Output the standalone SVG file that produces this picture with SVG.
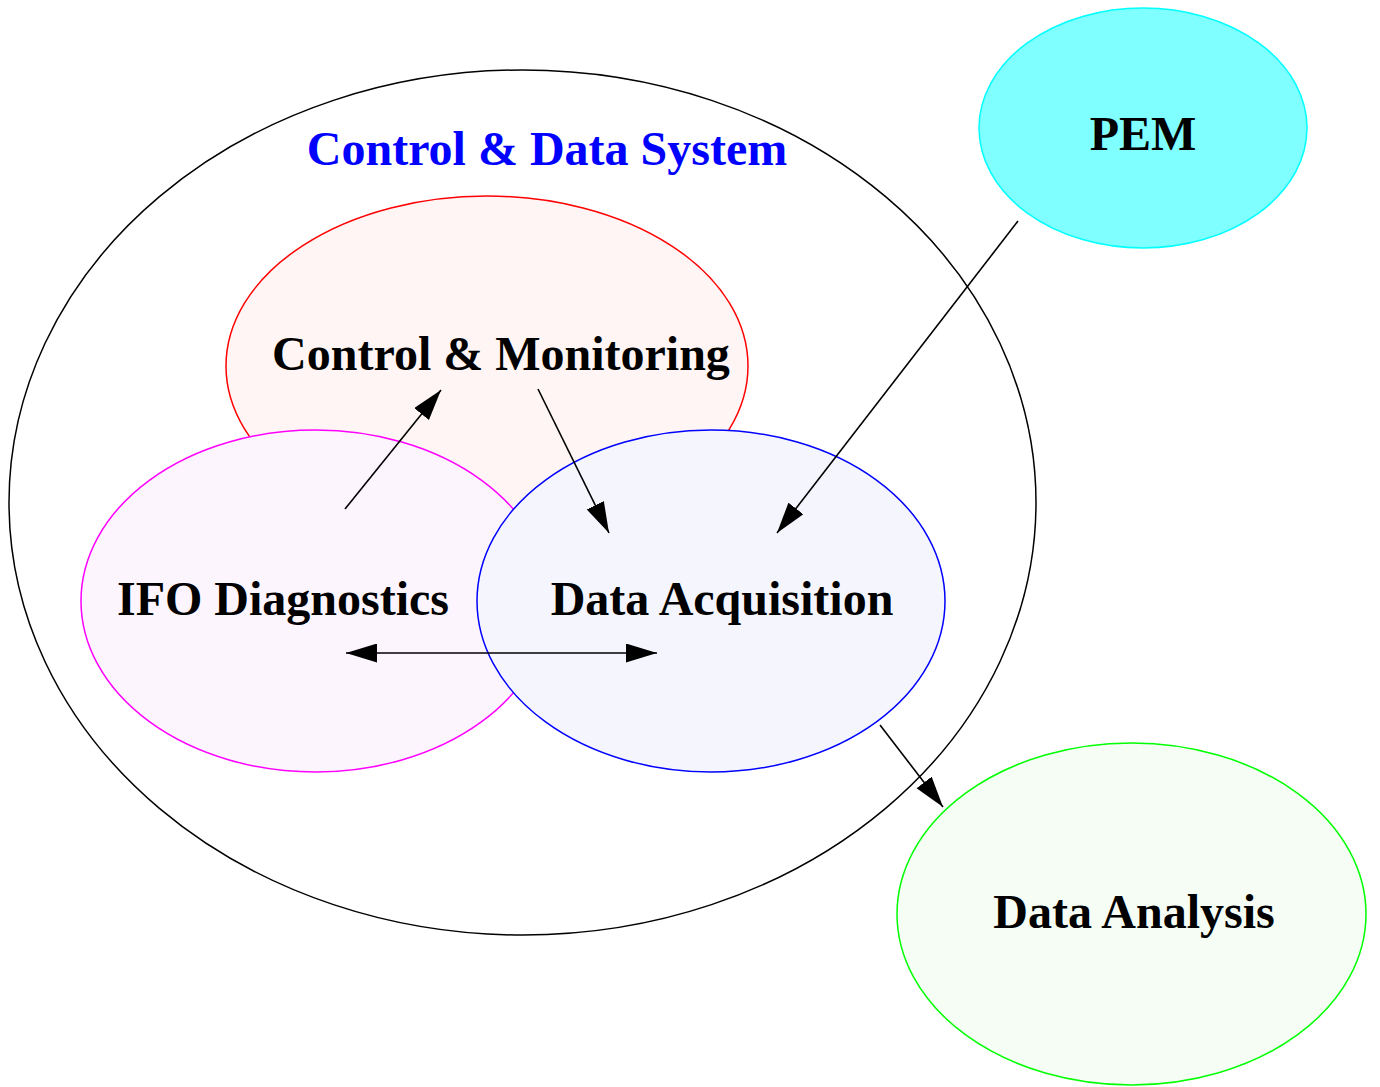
<svg xmlns="http://www.w3.org/2000/svg" width="1380" height="1087" viewBox="0 0 1380 1087">
<style>
.lbl{font-family:"Liberation Serif","Times New Roman",serif;font-weight:bold;font-size:48px;text-anchor:middle;fill:#000}
.node{stroke-width:1.5}
.conn{stroke:#000;stroke-width:1.6;fill:none}
</style>
<defs>
<marker id="ah" markerWidth="32" markerHeight="20" refX="31" refY="9.5" orient="auto" markerUnits="userSpaceOnUse">
<path d="M0,0 L31,9.5 L0,19 Z" fill="#000"/>
</marker>
<marker id="ahs" markerWidth="32" markerHeight="20" refX="0" refY="9.5" orient="auto" markerUnits="userSpaceOnUse">
<path d="M31,0 L0,9.5 L31,19 Z" fill="#000"/>
</marker>
</defs>
<rect width="1380" height="1087" fill="#fff"/>
<g id="cds">
<ellipse class="node" cx="522.5" cy="502.5" rx="513.5" ry="432.5" fill="#fff" stroke="#000"/>
<text class="lbl" x="547" y="165" fill="#0000ff" style="fill:#0000ff">Control &amp; Data System</text>
</g>
<g id="cm">
<ellipse class="node" cx="487" cy="366" rx="261" ry="170" fill="#fff5f5" stroke="#ff0000"/>
<text class="lbl" x="501" y="370">Control &amp; Monitoring</text>
</g>
<g id="ifo">
<ellipse class="node" cx="315.5" cy="601" rx="234.5" ry="171" fill="#fdf5fd" stroke="#ff00ff"/>
<text class="lbl" x="283" y="615">IFO Diagnostics</text>
</g>
<g id="daq">
<ellipse class="node" cx="711" cy="601" rx="234" ry="171" fill="#f5f5fd" stroke="#0000ff"/>
<text class="lbl" x="722" y="615">Data Acquisition</text>
</g>
<g id="pem">
<ellipse class="node" cx="1143" cy="128" rx="164" ry="120" fill="#7fffff" stroke="#00ffff"/>
<text class="lbl" x="1143" y="150">PEM</text>
</g>
<g id="da">
<ellipse class="node" cx="1131.5" cy="914" rx="234.5" ry="171" fill="#f5fdf5" stroke="#00ff00"/>
<text class="lbl" x="1134" y="928">Data Analysis</text>
</g>
<g id="connectors">
<line class="conn" x1="345" y1="509" x2="441" y2="390" marker-end="url(#ah)"/>
<line class="conn" x1="538" y1="389" x2="609" y2="533" marker-end="url(#ah)"/>
<line class="conn" x1="346" y1="653" x2="657" y2="653" marker-start="url(#ahs)" marker-end="url(#ah)"/>
<line class="conn" x1="1018" y1="221" x2="777" y2="533" marker-end="url(#ah)"/>
<line class="conn" x1="880" y1="725" x2="943" y2="807" marker-end="url(#ah)"/>
</g>
</svg>
